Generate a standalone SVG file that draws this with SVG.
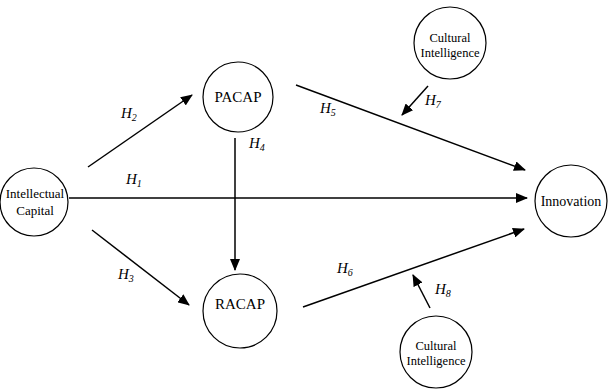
<svg xmlns="http://www.w3.org/2000/svg" width="612" height="390" viewBox="0 0 612 390">
<defs>
<marker id="ah" markerWidth="12" markerHeight="10" refX="11" refY="5" orient="auto" markerUnits="userSpaceOnUse">
<path d="M0,0 L12,5 L0,10 Z" fill="#000"/>
</marker>
<style>
.n{fill:#fff;stroke:#000;stroke-width:1.2}
text{font-family:'Liberation Serif','Times New Roman','DejaVu Serif',serif;fill:#000}
.t{text-anchor:middle}
.c line{stroke:#000;stroke-width:1.5;marker-end:url(#ah)}
.h{font-style:italic;font-size:15px}
.h tspan{font-size:10px}
</style>
</defs>
<rect width="612" height="390" fill="#fff"/>
<g class="c" id="connectors">
<line x1="69" y1="198" x2="527" y2="198"/>
<line x1="88" y1="167" x2="192" y2="95"/>
<line x1="92" y1="230" x2="189" y2="305"/>
<line x1="235" y1="138" x2="235" y2="270"/>
<line x1="296" y1="85" x2="525" y2="170"/>
<line x1="428" y1="86" x2="402" y2="115"/>
<line x1="303" y1="307" x2="524" y2="229"/>
<line x1="430" y1="308" x2="413" y2="275"/>
</g>
<g id="labels">
<text class="h" x="121" y="118">H<tspan dy="3">2</tspan></text>
<text class="h" x="126" y="184">H<tspan dy="3">1</tspan></text>
<text class="h" x="118" y="279">H<tspan dy="3">3</tspan></text>
<text class="h" x="249" y="148">H<tspan dy="3">4</tspan></text>
<text class="h" x="320" y="113">H<tspan dy="3">5</tspan></text>
<text class="h" x="337" y="273">H<tspan dy="3">6</tspan></text>
<text class="h" x="425" y="105">H<tspan dy="3">7</tspan></text>
<text class="h" x="435" y="294">H<tspan dy="3">8</tspan></text>
</g>
<g id="ic">
<circle class="n" cx="34" cy="202" r="34"/>
<text class="t" x="35" y="198" font-size="13">Intellectual</text>
<text class="t" x="35" y="215" font-size="13">Capital</text>
</g>
<g id="pacap">
<circle class="n" cx="238" cy="97" r="35"/>
<text class="t" x="238" y="102" font-size="15">PACAP</text>
</g>
<g id="racap">
<circle class="n" cx="240" cy="311" r="37"/>
<text class="t" x="240" y="309" font-size="15">RACAP</text>
</g>
<g id="ci1">
<circle class="n" cx="450" cy="43" r="36"/>
<text class="t" x="450" y="42" font-size="12.5">Cultural</text>
<text class="t" x="450" y="57" font-size="12.5">Intelligence</text>
</g>
<g id="ci2">
<circle class="n" cx="436" cy="352" r="36"/>
<text class="t" x="436" y="350" font-size="12.5">Cultural</text>
<text class="t" x="436" y="365" font-size="12.5">Intelligence</text>
</g>
<g id="innovation">
<circle class="n" cx="571" cy="201" r="36"/>
<text class="t" x="571" y="206" font-size="14">Innovation</text>
</g>
</svg>
